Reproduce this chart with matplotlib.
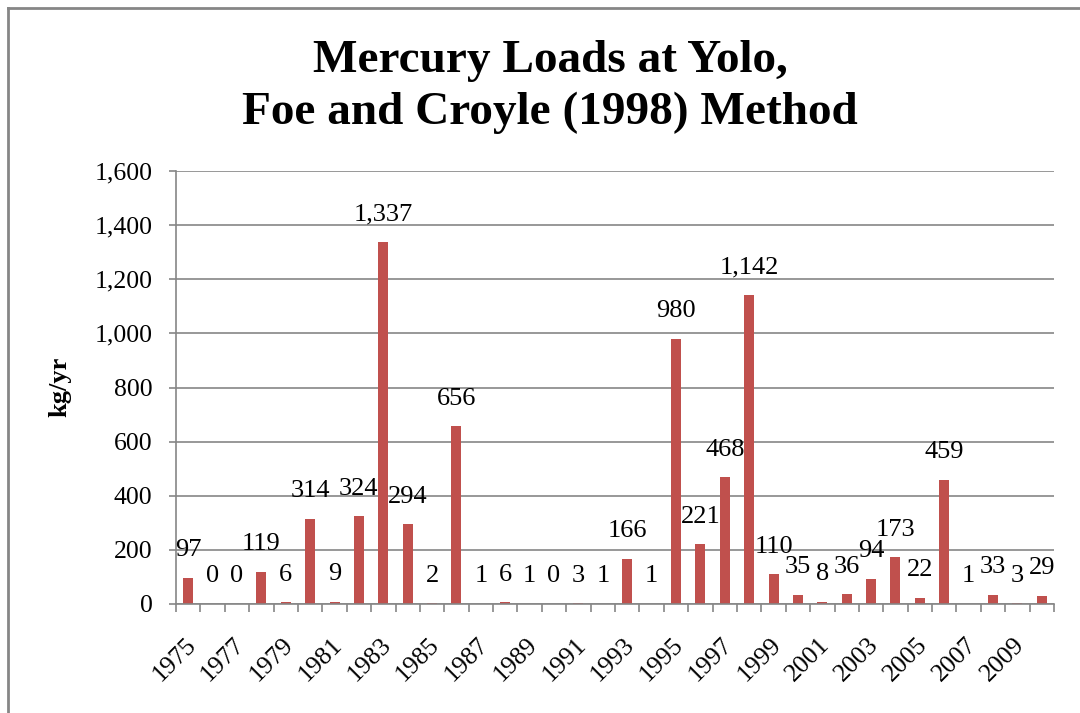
import matplotlib
matplotlib.use("Agg")
import matplotlib.pyplot as plt
from matplotlib.lines import Line2D
import numpy as np

years = list(range(1975, 2011))
loads = [97, 0, 0, 119, 6, 314, 9, 324, 1337, 294, 2, 656, 1, 6, 1, 0, 3, 1,
         166, 1, 980, 221, 468, 1142, 110, 35, 8, 36, 94, 173, 22, 459, 1, 33, 3, 29]
yticks = [0, 200, 400, 600, 800, 1000, 1200, 1400, 1600]
title = "Mercury Loads at Yolo,\nFoe and Croyle (1998) Method"
ylabel = "kg/yr"

plt.rcParams['font.family'] = ['Liberation Serif', 'DejaVu Serif']
grid_c = '#868686'
bar_c = '#C0504D'

fig = plt.figure(figsize=(10.8, 7.13), dpi=100)
ax = fig.add_axes([176/1080, 1-604/713, (1054-176)/1080, (604-171)/713])

x = np.arange(len(years))
ax.bar(x, loads, width=0.41, color=bar_c, zorder=3)
for xi, v in zip(x, loads):
    ax.annotate(f"{v:,}", (xi, v), xytext=(0, 12), textcoords='offset points',
                ha='center', va='bottom', fontsize=19, zorder=4)

ax.set_xlim(-0.5, len(years) - 0.5)
ax.set_ylim(0, 1600)
ax.set_yticks(yticks)
ax.set_yticklabels([f"{t:,}" for t in yticks], fontsize=18.5)
ax.yaxis.grid(True, color=grid_c, linewidth=1.2, zorder=0)
ax.tick_params(axis='y', direction='out', length=5, width=1.2, color=grid_c, pad=12)

ax.set_xticks(x[::2] - 0.15)
ax.set_xticklabels([str(y) for y in years[::2]], fontsize=18.5, rotation=45,
                   ha='right', va='top', rotation_mode='anchor')
ax.tick_params(axis='x', which='major', length=0, pad=21)
ax.set_xticks(np.arange(-0.5, len(years)), minor=True)
ax.tick_params(axis='x', which='minor', direction='out', length=6, width=1.2, color=grid_c)

for s in ['top', 'right']:
    ax.spines[s].set_visible(False)
for s in ['left', 'bottom']:
    ax.spines[s].set_color(grid_c)
    ax.spines[s].set_linewidth(1.2)
ax.spines['bottom'].set_zorder(5)

fig.text(550/1080, 1-87/713, title, ha='center', va='center', fontsize=34,
         fontweight='bold', linespacing=1.3)
fig.text(60/1080, 1-387/713, ylabel, rotation=90, ha='center', va='center',
         fontsize=19, fontweight='bold')

# chart area border
fig.add_artist(Line2D([8/1080, 8/1080], [0, 1-8/713], transform=fig.transFigure,
                      color=grid_c, linewidth=2))
fig.add_artist(Line2D([8/1080, 1], [1-8/713, 1-8/713], transform=fig.transFigure,
                      color=grid_c, linewidth=2))

fig.savefig("out.png", dpi=100)
